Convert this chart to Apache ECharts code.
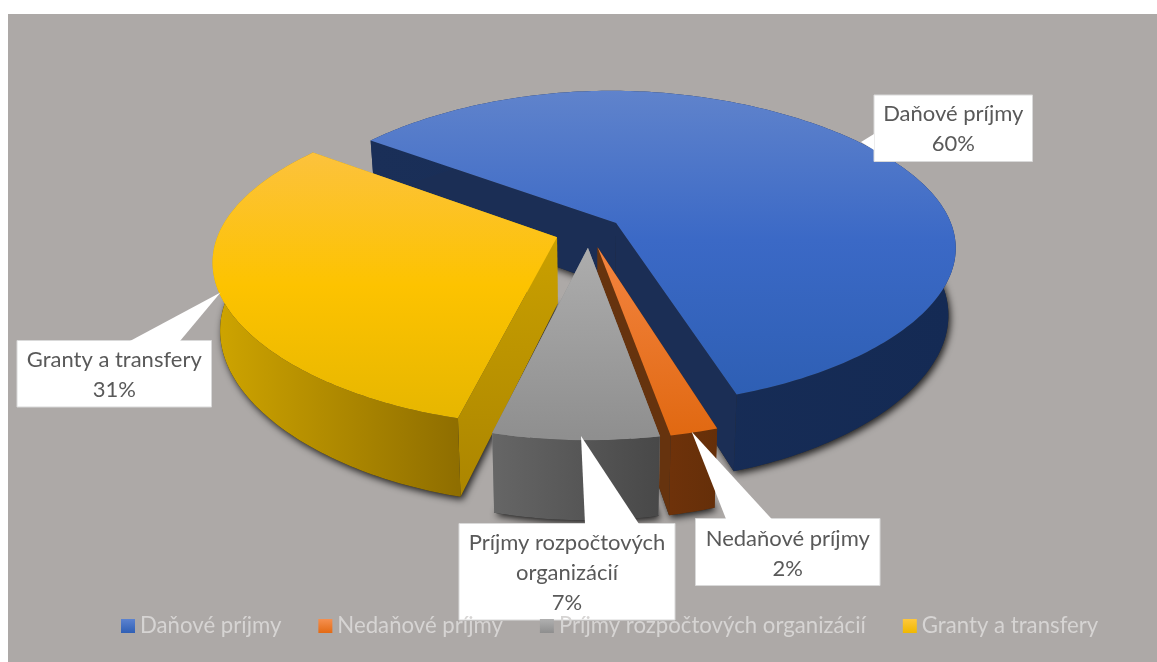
<!DOCTYPE html>
<html><head><meta charset="utf-8">
<script src="https://cdn.jsdelivr.net/npm/echarts@6/dist/echarts.min.js"></script>
<style>
html,body{margin:0;padding:0;background:#fff;overflow:hidden}
#bg{position:absolute;left:8px;top:14px;width:1149px;height:648px;background:#ada9a7}
#c{position:absolute;left:0;top:0;width:1157px;height:662px}
</style></head><body>
<div id="bg"></div><div id="c"></div>
<script>
const categories = ['Daňové príjmy', 'Nedaňové príjmy', 'Príjmy rozpočtových organizácií', 'Granty a transfery'];
const values = [60, 2, 7, 31];

const total = values.reduce((a, b) => a + b, 0);
const FONT = 'Lato, Carlito, "Open Sans", sans-serif';
const START = -54, CX = 589, CY = 232, R = 338, K = 156, P = 0.16, D = 66, EXPLODE = 0.1, SHRINK = 0.02, NARROW = 0.05;
const G = (x, y, x2, y2, stops) => new echarts.graphic.LinearGradient(x, y, x2, y2,
  stops.map((c, i) => ({ offset: i / (stops.length - 1), color: c })), true);

const styles = [
  { top: ['#6184cc', '#3b69c6', '#2e5fb4'], yr: [85, 395], wall: ['#1a2f58', '#142a54'], cut: '#1b2e55', z: 2 },
  { top: ['#f38440', '#e16912'], yr: [247, 432], wall: ['#6e320a', '#652f09'], cut: '#66330e', z: 3 },
  { top: ['#adadad', '#8f8f8f'], yr: [247, 437], wall: ['#666666', '#484848'], cut: '#8a8a8a', z: 5 },
  { top: ['#fcc23e', '#fdc300', '#e6b600'], yr: [150, 420], wall: ['#cfa500', '#8f6e00'], cut: ['#cda300', '#ac8600'], z: 4 }
];

function project(u, v, h) {
  const s = 1 / (1 + P * v);
  return [CX + R * u * s * (1 - NARROW * v * v) * (1 - SHRINK * h), CY - K * v * s + D * h * s];
}
function sliceGeometry(i, value) {
  let before = 0;
  for (let j = 0; j < i; j++) before += values[j];
  const a0 = START + before / total * 360;
  const a1 = a0 + value / total * 360;
  const mid = (a0 + a1) / 2 * Math.PI / 180;
  const u0 = EXPLODE * Math.sin(mid), v0 = EXPLODE * Math.cos(mid);
  const arc = h => {
    const pts = [];
    const n = Math.max(2, Math.ceil(a1 - a0));
    for (let k = 0; k <= n; k++) {
      const t = (a0 + (a1 - a0) * k / n) * Math.PI / 180;
      pts.push(project(u0 + Math.sin(t), v0 + Math.cos(t), h));
    }
    return pts;
  };
  return { apexTop: project(u0, v0, 0), apexBot: project(u0, v0, 1), top: arc(0), bot: arc(1) };
}
function renderSlice(i) {
  return function (params, api) {
    const g = sliceGeometry(i, api.value(0));
    const st = styles[i];
    const xs = g.top.map(p => p[0]);
    const minX = Math.min(...xs), maxX = Math.max(...xs);
    const first = 0, last = g.top.length - 1;
    const topFill = G(0, st.yr[0], 0, st.yr[1], st.top);
    const wallFill = G(minX, 0, maxX, 0, st.wall);
    const cutFill = Array.isArray(st.cut) ? G(0, st.yr[0] + 60, 0, st.yr[1] + 70, st.cut) : st.cut;
    const children = [
      { type: 'polygon', shape: { points: [g.apexBot].concat(g.bot) },
        style: { fill: '#2a2a2a', shadowBlur: 7, shadowColor: 'rgba(0,0,0,0.8)', shadowOffsetX: 2, shadowOffsetY: 3 } },
      { type: 'polygon', shape: { points: [g.apexTop, g.top[first], g.bot[first], g.apexBot] }, style: { fill: cutFill } },
      { type: 'polygon', shape: { points: [g.apexTop, g.top[last], g.bot[last], g.apexBot] }, style: { fill: cutFill } },
      { type: 'polygon', shape: { points: g.top.concat(g.bot.slice().reverse()) }, style: { fill: wallFill } },
      { type: 'polygon', shape: { points: [g.apexTop].concat(g.top) }, style: { fill: topFill } }
    ];
    return { type: 'group', children };
  };
}

const callouts = [
  { box: [874, 95, 158.5, 66.5], tail: [[874, 134], [861, 142], [874, 150]], textY: 129 },
  { box: [695.5, 518.5, 184.5, 67], tail: [[726, 519], [691.7, 431.7], [771.7, 519]], textY: 554 },
  { box: [459, 523.5, 216, 96.5], tail: [[585, 524], [581, 436], [639, 524]], textY: 573 },
  { box: [17, 340.5, 194.5, 66.5], tail: [[130, 341], [220.5, 292.5], [180, 341]], textY: 375 }
];
const labelTexts = categories.map((c, i) =>
  c.replace('rozpočtových ', 'rozpočtových\n') + '\n' + Math.round(values[i] / total * 100) + '%');

const graphicEls = [];
callouts.forEach((c, i) => {
  graphicEls.push({ type: 'rect', z: 100, silent: true, shape: { x: c.box[0], y: c.box[1], width: c.box[2], height: c.box[3] },
    style: { fill: '#fff', stroke: '#d9d9d9', lineWidth: 1 } });
  graphicEls.push({ type: 'polygon', z: 101, silent: true, shape: { points: c.tail }, style: { fill: '#fff' } });
  graphicEls.push({ type: 'text', z: 102, silent: true, x: c.box[0] + c.box[2] / 2, y: c.textY,
    style: { text: labelTexts[i], fill: '#595959', font: '22px ' + FONT, textAlign: 'center', textVerticalAlign: 'middle', lineHeight: 30 } });
});

const legendColors = [['#5b82d0', '#2f5fb5'], ['#f59050', '#e36a14'], ['#b0b0b0', '#8e8e8e'], ['#ffc83c', '#f0b800']];

const chart = echarts.init(document.getElementById('c'), null, { renderer: 'canvas' });
chart.setOption({
  animation: false,
  backgroundColor: 'transparent',
  legend: {
    z: 200, top: 610, left: 116, padding: 5, itemWidth: 14, itemHeight: 14, itemGap: 37, icon: 'rect',
    selectedMode: false,
    textStyle: { color: '#d6d4d3', fontSize: 22.2, fontFamily: FONT },
    data: categories.map((name, i) => ({ name, itemStyle: { color: new echarts.graphic.LinearGradient(0, 0, 0, 1, [
      { offset: 0, color: legendColors[i][0] }, { offset: 1, color: legendColors[i][1] }]) } }))
  },
  graphic: { elements: graphicEls },
  series: categories.map((name, i) => ({
    type: 'custom', name, coordinateSystem: 'none', z: styles[i].z, silent: true, clip: false,
    itemStyle: { color: styles[i].top[0] },
    data: [[values[i]]],
    renderItem: renderSlice(i)
  }))
});
</script>
</body></html>
